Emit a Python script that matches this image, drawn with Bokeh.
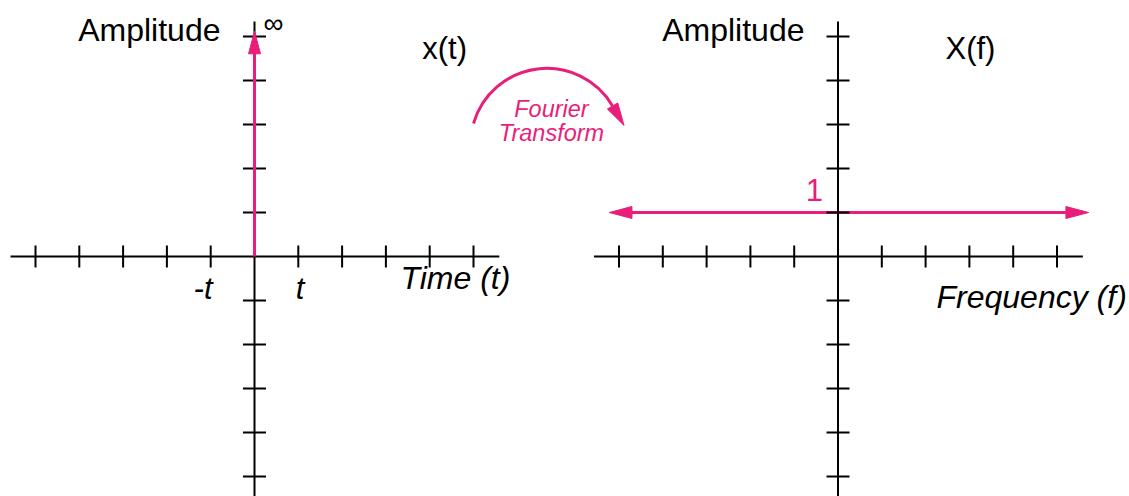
import math
from bokeh.plotting import figure
from bokeh.models import Range1d
from bokeh.core.properties import value
from bokeh.embed import file_html
from bokeh.resources import INLINE

# ---------------- data ----------------
time_ticks = [-5, -4, -3, -2, -1, 1, 2, 3, 4, 5]
freq_ticks = [-5, -4, -3, -2, -1, 1, 2, 3, 4, 5]
amp_ticks = [-5, -4, -3, -2, -1, 1, 2, 3, 4, 5]

impulse_t = [0.0, 0.0]          # Dirac impulse at t = 0
impulse_amp = [0.0, 5.12]       # drawn height (labelled "∞")

spectrum_f = [-5.22, 5.72]      # flat spectrum X(f) = 1 (arrows both ways)
spectrum_amp = [1.0, 1.0]

time_tick_labels = ["-t", "t"]
time_tick_label_x = [-1.39, 0.94]

# ---------------- layout constants ----------------
W, H = 1129, 496
PX_X, PX_Y = 43.8, 44.0          # pixels per unit
OX_T, OX_F, OY = 254.0, 837.5, 256.0   # canvas origins
PINK = "#E91E7A"
FONT = value("Liberation Sans")
TEXT_DY = 10.0 / PX_Y            # baseline correction for svg text

AX_LO, AX_HI = -5.57, 5.59
Y_TOP, Y_BOT = 5.34, -5.8
HEAD_L, HEAD_W = 22.6, 12.0

p = figure(width=W, height=H,
           x_range=Range1d(-OX_T / PX_X, (W - OX_T) / PX_X),
           y_range=Range1d(-(H - OY) / PX_Y, OY / PX_Y),
           x_axis_type=None, y_axis_type=None,
           output_backend="svg", toolbar_location=None, min_border=0)
p.extra_x_ranges = {"freq": Range1d(-OX_F / PX_X, (W - OX_F) / PX_X)}
p.outline_line_color = None
p.background_fill_color = "white"
p.border_fill_color = "white"
p.grid.visible = False


def rng_kw(rng):
    return {} if rng is None else {"x_range_name": rng}


def arrow_head(tip_u, tip_v, dx, dy, rng=None):
    """triangle with tip at (tip_u, tip_v), pointing along screen dir (dx, dy) (y up)"""
    bu = tip_u - HEAD_L * dx / PX_X
    bv = tip_v - HEAD_L * dy / PX_Y
    nx, ny = -dy, dx
    xs = [tip_u, bu + HEAD_W / 2 * nx / PX_X, bu - HEAD_W / 2 * nx / PX_X]
    ys = [tip_v, bv + HEAD_W / 2 * ny / PX_Y, bv - HEAD_W / 2 * ny / PX_Y]
    p.patch(xs, ys, fill_color=PINK, line_color=PINK, line_width=1, **rng_kw(rng))


def draw_axes(xticks, rng=None):
    kw = rng_kw(rng)
    p.segment(x0=[AX_LO, 0], y0=[0, Y_BOT], x1=[AX_HI, 0], y1=[0, Y_TOP],
              line_color="black", line_width=2, **kw)
    p.scatter(x=xticks, y=[0] * len(xticks), marker="dash", size=22,
              angle=math.pi / 2, line_color="black", line_width=2, **kw)
    p.scatter(x=[0] * len(amp_ticks), y=amp_ticks, marker="dash", size=23,
              line_color="black", line_width=2, **kw)


# ---- right panel: spectrum (under the axes) ----
p.line(x=[spectrum_f[0] + HEAD_L / PX_X, spectrum_f[1] - HEAD_L / PX_X],
       y=spectrum_amp, line_color=PINK, line_width=3, x_range_name="freq")
arrow_head(spectrum_f[0], spectrum_amp[0], -1, 0, "freq")
arrow_head(spectrum_f[1], spectrum_amp[1], 1, 0, "freq")
draw_axes(freq_ticks, "freq")

# ---- left panel: impulse (over the axes) ----
draw_axes(time_ticks)
p.line(x=impulse_t, y=[impulse_amp[0], impulse_amp[1] - HEAD_L / PX_Y],
       line_color=PINK, line_width=3)
arrow_head(impulse_t[1], impulse_amp[1], 0, 1)

# ---- Fourier transform curved arrow ----
ARC_U, ARC_V, ARC_R = 6.674, 2.541, 76.3
a0, a1 = math.radians(30.5), math.radians(163.9)
p.arc(x=[ARC_U], y=[ARC_V], radius=ARC_R, radius_units="screen",
      start_angle=a0, end_angle=a1, line_color=PINK, line_width=3)
bu = ARC_U + ARC_R * math.cos(a0) / PX_X
bv = ARC_V + ARC_R * math.sin(a0) / PX_Y
dx, dy = math.sin(a0), -math.cos(a0)
arrow_head(bu + HEAD_L * dx / PX_X, bv + HEAD_L * dy / PX_Y, dx, dy)

# ---- texts ----
def txt(x, y, s, size, align="left", color="black", style="normal", rng=None):
    p.text(x=[x], y=[y + TEXT_DY], text=[s], text_font=FONT, text_font_size=size,
           text_align=align, text_baseline="alphabetic", text_color=color,
           text_font_style=style, **rng_kw(rng))

txt(-0.776, 4.925, "Amplitude", "32px", align="right")
txt(3.829, 4.50, "x(t)", "31px")
txt(0.434, 5.06, "∞", "28px", align="center")
for lab, lx in zip(time_tick_labels, time_tick_label_x):
    txt(lx, -0.955, lab, "31px", style="italic")
txt(3.333, -0.727, "Time (t)", "32px", style="italic")

txt(-0.765, 4.925, "Amplitude", "32px", align="right", rng="freq")
txt(2.454, 4.50, "X(f)", "31px", rng="freq")
txt(-0.537, 1.273, "1", "31px", align="center", color=PINK, rng="freq")
txt(2.249, -1.159, "Frequency (f)", "32px", style="italic", rng="freq")

txt(6.78, 3.13, "Fourier", "23.5px", align="center", color=PINK, style="italic")
txt(6.78, 2.58, "Transform", "23.5px", align="center", color=PINK, style="italic")

open("out.html", "w").write(file_html(p, INLINE))
